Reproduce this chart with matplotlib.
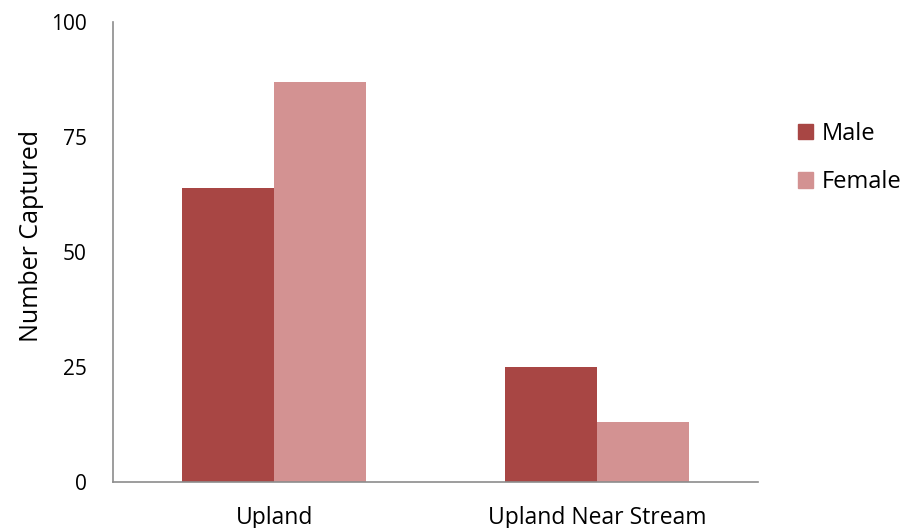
import matplotlib
matplotlib.use("Agg")
import matplotlib.pyplot as plt
import numpy as np
from matplotlib.patches import Rectangle

categories = ["Upland", "Upland Near Stream"]
series_names = ["Male", "Female"]
male = [64, 25]
female = [87, 13]
y_ticks = [0, 25, 50, 75, 100]

colors = ["#A84644", "#D39292"]
plt.rcParams["font.family"] = ["Open Sans", "DejaVu Sans"]

fig = plt.figure(figsize=(9.10, 5.28), dpi=100)
ax = fig.add_axes([113 / 910, 1 - 482 / 528, 645 / 910, 460 / 528])

x = np.arange(len(categories))
width = 1 / 3.5
ax.bar(x - width / 2, male, width, color=colors[0], label=series_names[0])
ax.bar(x + width / 2, female, width, color=colors[1], label=series_names[1])

ax.set_xlim(-0.5, len(categories) - 0.5)
ax.set_ylim(0, 100)
ax.set_yticks(y_ticks)
ax.set_xticks(x)
ax.set_xticklabels(categories)
ax.tick_params(axis="y", length=0, pad=19, labelsize=15)
ax.tick_params(axis="x", length=0, pad=17, labelsize=16.5)
for s in ["top", "right"]:
    ax.spines[s].set_visible(False)
for s in ["left", "bottom"]:
    ax.spines[s].set_color("#8C8C8C")
    ax.spines[s].set_linewidth(1.2)
ax.set_ylabel("Number Captured", fontsize=18, labelpad=5)
ax.yaxis.label.set_y(0.534)

handles = [Rectangle((0, 0), 1, 1, color=c) for c in colors]
fig.legend(handles, series_names, loc="center left",
           bbox_to_anchor=(777 / 910, 1 - 158 / 528), frameon=False,
           fontsize=17, handlelength=0.64, handleheight=0.64,
           handletextpad=0.34, labelspacing=1.05)

fig.savefig("out.png", dpi=100)
